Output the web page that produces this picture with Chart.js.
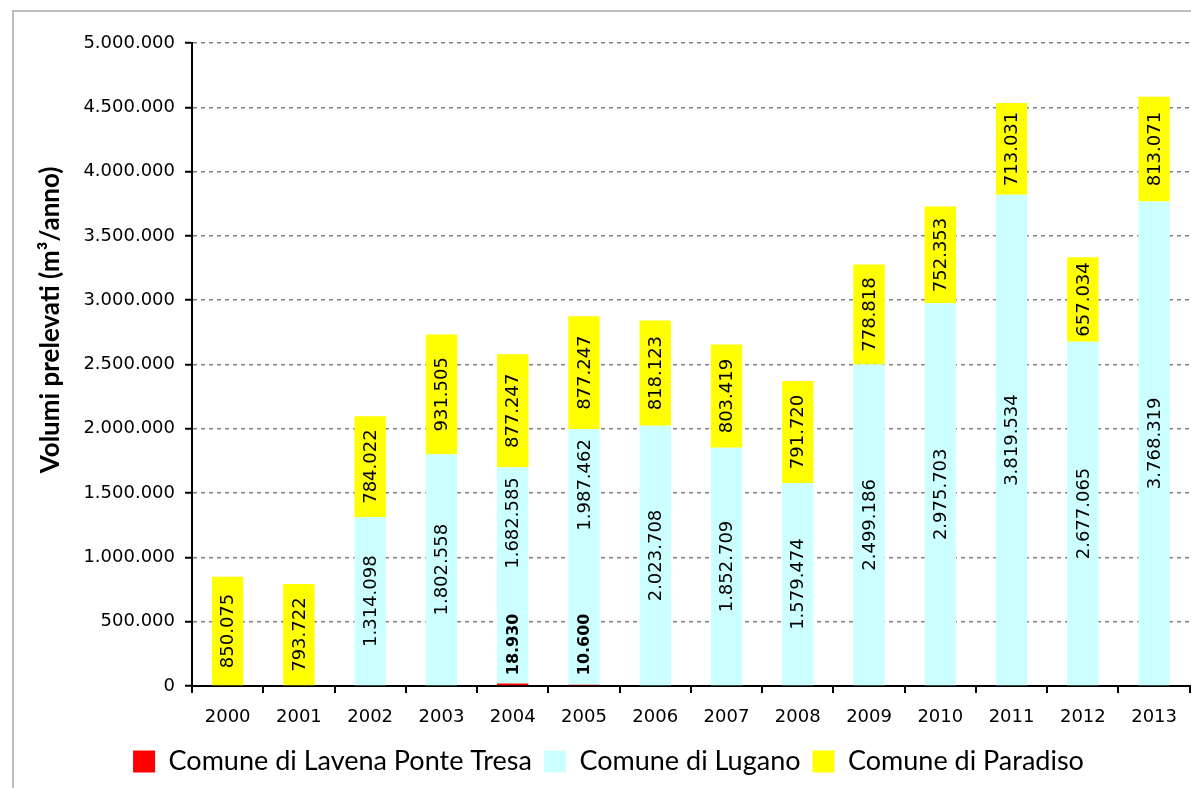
<!DOCTYPE html>
<html>
<head>
<meta charset="utf-8">
<script src="https://cdn.jsdelivr.net/npm/chart.js@4"></script>
<style>
  body { margin: 0; background: #fff; }
  #wrap { width: 1191px; height: 788px; }
</style>
</head>
<body>
<div id="wrap"><canvas id="chart" width="1191" height="788"></canvas></div>
<script>
// Data
const years = ['2000', '2001', '2002', '2003', '2004', '2005', '2006', '2007', '2008', '2009', '2010', '2011', '2012', '2013'];
const lavena = [0, 0, 0, 0, 18930, 10600, 0, 0, 0, 0, 0, 0, 0, 0];
const lugano = [0, 0, 1314098, 1802558, 1682585, 1987462, 2023708, 1852709, 1579474, 2499186, 2975703, 3819534, 2677065, 3768319];
const paradiso = [850075, 793722, 784022, 931505, 877247, 877247, 818123, 803419, 791720, 778818, 752353, 713031, 657034, 813071];
const yTicks = [0, 500000, 1000000, 1500000, 2000000, 2500000, 3000000, 3500000, 4000000, 4500000, 5000000];

function fmt(n) {
  return String(n).replace(/\B(?=(\d{3})+(?!\d))/g, '.');
}

// border of the chart area (left + top only, like the original)
const frame = {
  id: 'frame',
  beforeDraw(chart) {
    const ctx = chart.ctx;
    ctx.save();
    ctx.strokeStyle = '#a6a6a6';
    ctx.lineWidth = 1.5;
    ctx.beginPath();
    ctx.moveTo(13, 788);
    ctx.lineTo(13, 11);
    ctx.lineTo(1191, 11);
    ctx.stroke();
    ctx.restore();
  }
};

// vertical value labels inside the bars
const barLabels = {
  id: 'barLabels',
  afterDatasetsDraw(chart) {
    const ctx = chart.ctx;
    chart.data.datasets.forEach((ds, i) => {
      const meta = chart.getDatasetMeta(i);
      meta.data.forEach((bar, j) => {
        const v = ds.data[j];
        if (!v) return;
        ctx.save();
        ctx.fillStyle = '#000';
        ctx.textBaseline = 'middle';
        if (i === 0) {
          // small values: bold, sitting on the base
          ctx.translate(bar.x, bar.base - 10);
          ctx.rotate(-Math.PI / 2);
          ctx.textAlign = 'left';
          ctx.font = 'bold 16px "DejaVu Sans"';
        } else if (i === 1 && lavena[j]) {
          // moved to the top of the segment so it clears the small label
          ctx.translate(bar.x, bar.y + 10);
          ctx.rotate(-Math.PI / 2);
          ctx.textAlign = 'right';
          ctx.font = '18px "DejaVu Sans"';
        } else {
          ctx.translate(bar.x, (bar.y + bar.base) / 2);
          ctx.rotate(-Math.PI / 2);
          ctx.textAlign = 'center';
          ctx.font = '18px "DejaVu Sans"';
        }
        ctx.fillText(fmt(v), 0, 1);
        ctx.restore();
      });
    });
  }
};

// y axis title, placed like the original (not centred on the axis)
const yTitle = {
  id: 'yTitle',
  afterDraw(chart) {
    const ctx = chart.ctx;
    ctx.save();
    ctx.translate(51, 320);
    ctx.rotate(-Math.PI / 2);
    ctx.textAlign = 'center';
    ctx.textBaseline = 'middle';
    ctx.fillStyle = '#000';
    ctx.font = 'bold 26px Lato';
    ctx.fillText('Volumi prelevati (m³/anno)', 0, 0);
    ctx.restore();
  }
};

const ctx = document.getElementById('chart').getContext('2d');
const chart = new Chart(ctx, {
  type: 'bar',
  data: {
    labels: years,
    datasets: [
      { label: 'Comune di Lavena Ponte Tresa', data: lavena, backgroundColor: '#ff0000' },
      { label: 'Comune di Lugano', data: lugano, backgroundColor: '#ccffff' },
      { label: 'Comune di Paradiso', data: paradiso, backgroundColor: '#ffff00' }
    ]
  },
  options: {
    responsive: false,
    animation: false,
    layout: { padding: { left: 26, top: 43, right: 0, bottom: 3 } },
    datasets: { bar: { categoryPercentage: 1, barPercentage: 0.44 } },
    plugins: {
      tooltip: { enabled: false },
      legend: {
        position: 'bottom',
        labels: {
          font: { family: 'Lato', size: 27 },
          color: '#000',
          boxWidth: 22,
          boxHeight: 22,
          padding: 12
        }
      }
    },
    scales: {
      x: {
        stacked: true,
        afterFit(scale) { scale.height = 50; },
        grid: { drawOnChartArea: false, color: '#000', lineWidth: 2, tickLength: 7 },
        border: { color: '#000', width: 2 },
        ticks: { font: { family: 'DejaVu Sans', size: 18 }, color: '#000', padding: 14, maxRotation: 0 }
      },
      y: {
        stacked: true,
        min: 0,
        max: 5000000,
        afterFit(scale) { scale.width = 166; },
        afterBuildTicks(scale) { scale.ticks = yTicks.map(v => ({ value: v })); },
        grid: { color: '#808080', lineWidth: 1.5, tickColor: '#000', tickWidth: 2, tickLength: 7 },
        border: { color: '#000', width: 2, dash: [4, 4] },
        ticks: {
          font: { family: 'DejaVu Sans', size: 18 },
          color: '#000',
          padding: 10,
          callback: v => fmt(v)
        }
      }
    }
  },
  plugins: [frame, barLabels, yTitle]
});
</script>
</body>
</html>
